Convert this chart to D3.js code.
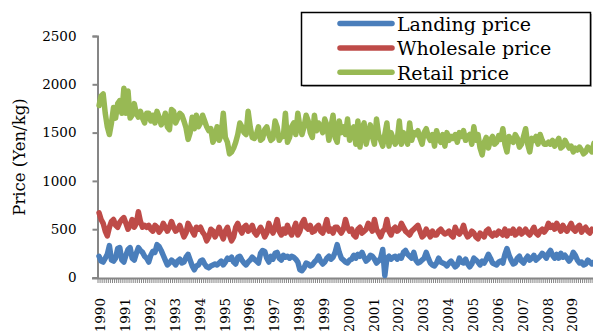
<!DOCTYPE html>
<html>
<head>
<meta charset="utf-8">
<script src="https://cdn.jsdelivr.net/npm/d3@7"></script>
<style>
  body { margin: 0; background: #fff; }
  svg { display: block; }
</style>
</head>
<body>
<svg id="chart" width="593" height="331"></svg>
<script>
// monthly series, Jan 1990 .. Dec 2009 (one row per year)
var years = d3.range(1990, 2010);

var landing = [
  220, 170, 160, 200, 240, 330, 180, 170, 200, 300, 310, 180,
  160, 230, 290, 310, 200, 180, 250, 310, 280, 260, 220, 200,
  160, 230, 270, 260, 340, 320, 280, 230, 180, 130, 150, 180,
  160, 130, 170, 190, 150, 160, 210, 240, 180, 120, 80, 120,
  130, 170, 180, 140, 110, 100, 120, 130, 140, 130, 150, 170,
  130, 160, 200, 190, 210, 160, 140, 210, 220, 180, 150, 130,
  160, 180, 210, 190, 170, 150, 250, 280, 270, 200, 160, 220,
  190, 250, 260, 200, 180, 230, 210, 220, 200, 220, 210, 190,
  160, 80, 70, 100, 150, 140, 120, 130, 160, 180, 220, 170,
  140, 160, 200, 220, 190, 210, 260, 340, 260, 200, 180, 160,
  150, 180, 190, 230, 200, 240, 220, 260, 210, 170, 190, 230,
  220, 190, 150, 170, 200, 290, 20, 200, 220, 190, 210, 220,
  190, 220, 200, 260, 280, 240, 220, 200, 260, 180, 150, 160,
  180, 200, 260, 200, 150, 130, 120, 150, 200, 160, 150, 140,
  120, 150, 170, 140, 110, 130, 200, 160, 150, 190, 140, 110,
  140, 200, 180, 160, 130, 170, 150, 190, 240, 200, 150, 140,
  130, 160, 170, 150, 240, 300, 230, 180, 140, 150, 200, 220,
  170, 150, 190, 220, 180, 200, 230, 180, 200, 220, 250, 230,
  200, 250, 280, 230, 200, 240, 200, 250, 210, 230, 200, 170,
  200, 260, 230, 180, 150, 160, 130, 140, 180, 160, 140, 160
];

var wholesale = [
  670, 600, 560, 480, 430, 520, 580, 600, 540, 520, 570, 600,
  620, 560, 500, 540, 600, 520, 560, 680, 580, 520, 540, 520,
  540, 500, 480, 540, 520, 470, 500, 560, 520, 480, 520, 580,
  520, 480, 500, 540, 480, 420, 460, 560, 520, 480, 440, 520,
  500, 520, 470, 440, 380, 420, 500, 480, 420, 460, 520, 450,
  400, 480, 520, 440, 380, 420, 520, 560, 500, 460, 520, 540,
  480, 500, 540, 470, 440, 480, 520, 480, 420, 460, 560, 500,
  460, 520, 600, 480, 440, 500, 460, 540, 480, 440, 500, 560,
  440, 480, 560, 600, 520, 500, 540, 470, 480, 520, 540, 480,
  460, 520, 600, 480, 500, 460, 520, 520, 490, 460, 500, 600,
  520, 480, 500, 440, 420, 500, 520, 460, 480, 500, 560, 520,
  480, 600, 500, 460, 420, 480, 500, 600, 480, 440, 500, 520,
  480, 500, 560, 520, 480, 460, 440, 480, 500, 520, 540, 480,
  420, 440, 500, 460, 420, 480, 440, 440, 480, 500, 470, 450,
  460, 480, 440, 420, 520, 470, 450, 480, 540, 460, 420, 440,
  480, 460, 420, 400, 460, 440, 420, 480, 500, 450, 430, 460,
  440, 480, 460, 440, 500, 430, 480, 460, 500, 440, 460, 500,
  450, 470, 500, 460, 440, 480, 520, 460, 440, 480, 500, 470,
  500, 560, 520, 540, 500, 560, 520, 480, 540, 500, 480, 520,
  560, 500, 480, 520, 540, 470, 500, 520, 480, 460, 500, 490
];

var retail = [
  1780, 1880, 1900, 1700, 1560, 1480, 1600, 1760, 1650, 1800, 1830, 1700,
  1960, 1700, 1930, 1650, 1680, 1800, 1700, 1660, 1720, 1650, 1600, 1700,
  1700, 1620, 1680, 1600, 1720, 1660, 1580, 1620, 1700, 1560, 1530, 1740,
  1720, 1600, 1650, 1700, 1680, 1620, 1550, 1430, 1500, 1660, 1540, 1680,
  1560, 1600, 1680, 1620, 1560, 1520, 1540, 1400, 1450, 1560, 1420, 1480,
  1700, 1450, 1400, 1280, 1300, 1340, 1400, 1480, 1600, 1560, 1500, 1480,
  1720, 1560, 1450, 1440, 1480, 1560, 1420, 1440, 1530, 1560, 1480, 1420,
  1440, 1620, 1560, 1420, 1460, 1460, 1700, 1400, 1450, 1560, 1600, 1480,
  1700, 1560, 1480, 1560, 1680, 1620, 1500, 1450, 1680, 1520, 1600, 1560,
  1500, 1640, 1580, 1420, 1560, 1680, 1450, 1400, 1620, 1500, 1560, 1480,
  1640, 1420, 1520, 1560, 1380, 1620, 1350, 1540, 1600, 1380, 1480, 1580,
  1460, 1380, 1640, 1480, 1420, 1360, 1480, 1600, 1360, 1500, 1440, 1380,
  1420, 1620, 1380, 1500, 1440, 1380, 1600, 1420, 1500, 1480, 1520, 1440,
  1380, 1500, 1540, 1460, 1420, 1480, 1360, 1520, 1440, 1400, 1480, 1360,
  1500, 1420, 1460, 1440, 1480, 1400, 1500, 1460, 1520, 1420, 1460, 1480,
  1380, 1560, 1420, 1480, 1340, 1270, 1400, 1450, 1340, 1420, 1460, 1380,
  1400, 1470, 1430, 1540, 1380, 1300, 1460, 1420, 1400, 1480, 1440, 1350,
  1380, 1460, 1540, 1380, 1300, 1440, 1420, 1460, 1380, 1480, 1420, 1380,
  1380, 1400, 1380, 1420, 1360, 1400, 1440, 1340, 1360, 1420, 1380, 1340,
  1360, 1300, 1340, 1320, 1350, 1320, 1280, 1300, 1350, 1330, 1300, 1390
];

var seriesNames = ["Landing price", "Wholesale price", "Retail price"];
var seriesColors = ["#4a7ebb", "#be4b48", "#98b954"];
var yTicks = [0, 500, 1000, 1500, 2000, 2500];

var svg = d3.select("#chart");
var axisColor = "#868686";
var font = "'DejaVu Serif', serif";

var months = d3.range(landing.length);
var x = d3.scaleBand().domain(months).range([98, 595]);
var y = d3.scaleLinear().domain([0, 2500]).range([277.5, 36]);
var cx = function(i) { return x(i) + x.bandwidth() / 2; };

// y axis
var yAxis = svg.append("g").attr("transform", "translate(97.5,0)")
  .call(d3.axisLeft(y).tickValues(yTicks).tickSize(5).tickPadding(16).tickFormat(d3.format("d")));
yAxis.select(".domain").attr("stroke", axisColor).attr("stroke-width", 2);
yAxis.selectAll(".tick line").attr("stroke", axisColor).attr("stroke-width", 2);
yAxis.selectAll(".tick text").attr("font-family", font).attr("font-size", 13.5).attr("fill", "#000");

// x axis: a tick every month, a label every January
var xg = svg.append("g");
xg.selectAll("line.mt").data(d3.range(landing.length + 1)).enter().append("line")
  .attr("x1", function(i) { return 98 + i * x.step(); })
  .attr("x2", function(i) { return 98 + i * x.step(); })
  .attr("y1", 278).attr("y2", 283)
  .attr("stroke", axisColor).attr("stroke-width", 1);
xg.append("line").attr("x1", 92).attr("x2", 595).attr("y1", 278.5).attr("y2", 278.5)
  .attr("stroke", axisColor).attr("stroke-width", 2);
xg.selectAll("text").data(years).enter().append("text")
  .attr("transform", function(d, k) { return "translate(" + (cx(k * 12) + 1.5) + ",298) rotate(-90)"; })
  .attr("text-anchor", "end").attr("dy", "0.35em")
  .attr("font-family", font).attr("font-size", 13.5).attr("fill", "#000")
  .text(function(d) { return d; });

// y title
svg.append("text").attr("transform", "translate(25,157) rotate(-90)")
  .attr("text-anchor", "middle").attr("font-family", font).attr("font-size", 16.5)
  .text("Price (Yen/kg)");

// lines
var line = d3.line().x(function(d, i) { return cx(i); }).y(function(d) { return y(d); });
[landing, wholesale, retail].forEach(function(s, k) {
  svg.append("path").datum(s).attr("d", line)
    .attr("fill", "none").attr("stroke", seriesColors[k]).attr("stroke-width", 5.5)
    .attr("stroke-linejoin", "round").attr("stroke-linecap", "round");
});

// legend
var lg = svg.append("g");
lg.append("rect").attr("x", 303).attr("y", 14).attr("width", 289).attr("height", 73).attr("fill", "#bbb");
lg.append("rect").attr("x", 301.5).attr("y", 12.5).attr("width", 289).attr("height", 73)
  .attr("fill", "#fff").attr("stroke", "#000").attr("stroke-width", 1.5);
seriesNames.forEach(function(n, k) {
  var ly = 23.5 + k * 24.4;
  lg.append("line").attr("x1", 340).attr("x2", 392).attr("y1", ly).attr("y2", ly)
    .attr("stroke", seriesColors[k]).attr("stroke-width", 5.5).attr("stroke-linecap", "round");
  lg.append("text").attr("x", 397).attr("y", ly + 7.5)
    .attr("font-family", font).attr("font-size", 19).text(n);
});
</script>
</body>
</html>
